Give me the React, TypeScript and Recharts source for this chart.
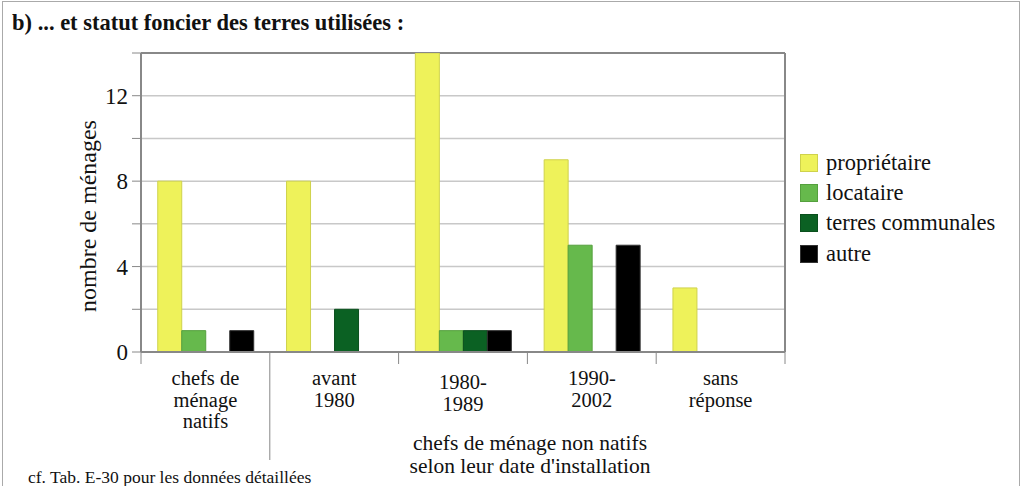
import React from 'react';
import { BarChart, Bar, XAxis, YAxis, CartesianGrid } from 'recharts';

const categories = [
  ['chefs de', 'ménage', 'natifs'],
  ['avant', '1980'],
  ['1980-', '1989'],
  ['1990-', '2002'],
  ['sans', 'réponse'],
];
const proprietaire = [8, 8, 14, 9, 3];
const locataire = [1, 0, 1, 5, 0];
const communales = [0, 2, 1, 0, 0];
const autre = [1, 0, 1, 5, 0];
const yTicks = [0, 2, 4, 6, 8, 10, 12, 14];
const yLabelled = [0, 4, 8, 12];

const series = [
  { key: 'proprietaire', name: 'propriétaire', fill: '#eef25a', stroke: '#cfd24c' },
  { key: 'locataire', name: 'locataire', fill: '#66b94c', stroke: '#55a03e' },
  { key: 'communales', name: 'terres communales', fill: '#0b6123', stroke: '#0a4f1d' },
  { key: 'autre', name: 'autre', fill: '#000000', stroke: '#333333' },
];

const data = categories.map((lines, i) => ({
  name: lines.join(' '),
  lines,
  proprietaire: proprietaire[i],
  locataire: locataire[i],
  communales: communales[i],
  autre: autre[i],
}));

const W = 1025;
const H = 486;
const PLOT_LEFT = 141;
const PLOT_RIGHT = 785;
const PLOT_TOP = 53;
const PLOT_BOTTOM = 352;
const BAND = (PLOT_RIGHT - PLOT_LEFT) / categories.length;
const FONT = 'Liberation Serif, Times New Roman, Times, Tinos, DejaVu Serif, Noto Serif, serif';

function XTick(props: any) {
  const { x, payload, index } = props;
  const lines: string[] = data[index]?.lines || [payload.value];
  const axisY = PLOT_BOTTOM;
  const shift = index === 2 ? 4 : 0;
  return (
    <g>
      <line
        x1={x - BAND / 2}
        x2={x - BAND / 2}
        y1={axisY}
        y2={index === 1 ? axisY + 108 : axisY + 12}
        stroke="#888"
      />
      {index === categories.length - 1 && (
        <line x1={x + BAND / 2} x2={x + BAND / 2} y1={axisY} y2={axisY + 12} stroke="#888" />
      )}
      {lines.map((l, i) => (
        <text
          key={i}
          x={x}
          y={axisY + 33 + shift + i * 21.5}
          textAnchor="middle"
          style={{ fontFamily: FONT }}
          fontSize={20.5}
          fill="#111"
        >
          {l}
        </text>
      ))}
    </g>
  );
}

function YTick(props: any) {
  const { x, y, payload } = props;
  if (!yLabelled.includes(payload.value)) return <g />;
  return (
    <text x={x} y={y + 8} textAnchor="end" style={{ fontFamily: FONT }} fontSize={23} fill="#111">
      {payload.value}
    </text>
  );
}

function LegendBox() {
  return (
    <div style={{ fontFamily: FONT, fontSize: 22.5, color: '#111' }}>
      {series.map((s, i) => (
        <div
          key={s.key}
          style={{ display: 'flex', alignItems: 'center', height: 30, marginTop: i === 3 ? 1 : 0 }}
        >
          <span
            style={{
              display: 'inline-block',
              width: 16,
              height: 16,
              background: s.fill,
              border: `1px solid ${s.stroke}`,
              marginRight: 8,
            }}
          />
          <span>{s.name}</span>
        </div>
      ))}
    </div>
  );
}

export default function App() {
  return (
    <div
      style={{
        position: 'absolute',
        left: 0,
        top: 0,
        width: W,
        height: H,
        background: '#fff',
        fontFamily: FONT,
        overflow: 'hidden',
      }}
    >
      <div
        style={{
          position: 'absolute',
          left: 2,
          top: 1,
          width: 1016,
          height: H + 10,
          border: '1px solid #aaa',
        }}
      />
      <div
        style={{
          position: 'absolute',
          left: 12,
          top: 10,
          fontWeight: 'bold',
          fontSize: 22.5,
          color: '#111',
        }}
      >
        b) ... et statut foncier des terres utilisées :
      </div>
      <div style={{ position: 'absolute', left: 0, top: 0 }}>
        <BarChart
          width={W}
          height={H}
          data={data}
          margin={{ top: PLOT_TOP, right: W - PLOT_RIGHT, bottom: 0, left: 0 }}
          barCategoryGap="13%"
          barGap={0}
        >
          <CartesianGrid
            vertical={false}
            horizontalValues={[2, 4, 6, 8, 10, 12]}
            stroke="#c8c8c8"
            strokeWidth={1.5}
          />
          <CartesianGrid
            horizontalCoordinatesGenerator={({ offset }: any) => [offset.top]}
            verticalCoordinatesGenerator={({ offset }: any) => [offset.left + offset.width]}
            stroke="#888"
            strokeWidth={2}
          />
          <XAxis
            dataKey="name"
            interval={0}
            axisLine={{ stroke: '#888', strokeWidth: 2 }}
            tickLine={false}
            tick={<XTick />}
            height={H - PLOT_BOTTOM}
          />
          <YAxis
            domain={[0, 14]}
            ticks={yTicks}
            interval={0}
            allowDataOverflow
            axisLine={{ stroke: '#888', strokeWidth: 2 }}
            tickLine={{ stroke: '#888' }}
            tickSize={9}
            tickMargin={4}
            tick={<YTick />}
            width={PLOT_LEFT}
            label={{
              content: () => (
                <text
                  transform="translate(96,216) rotate(-90)"
                  textAnchor="middle"
                  style={{ fontFamily: FONT }}
                  fontSize={24}
                  fill="#111"
                >
                  nombre de ménages
                </text>
              ),
            }}
          />
          {series.map((s) => (
            <Bar
              key={s.key}
              dataKey={s.key}
              name={s.name}
              fill={s.fill}
              stroke={s.stroke}
              strokeWidth={1}
              isAnimationActive={false}
            />
          ))}
        </BarChart>
      </div>
      <div style={{ position: 'absolute', left: 800, top: 148, width: 224 }}>
        <LegendBox />
      </div>
      <div
        style={{
          position: 'absolute',
          left: 330,
          width: 400,
          top: 432,
          textAlign: 'center',
          fontSize: 21.5,
          lineHeight: '23px',
          color: '#111',
        }}
      >
        chefs de ménage non natifs
        <br />
        selon leur date d'installation
      </div>
      <div style={{ position: 'absolute', left: 28, top: 467, fontSize: 17.5, color: '#111' }}>
        cf. Tab. E-30 pour les données détaillées
      </div>
    </div>
  );
}
